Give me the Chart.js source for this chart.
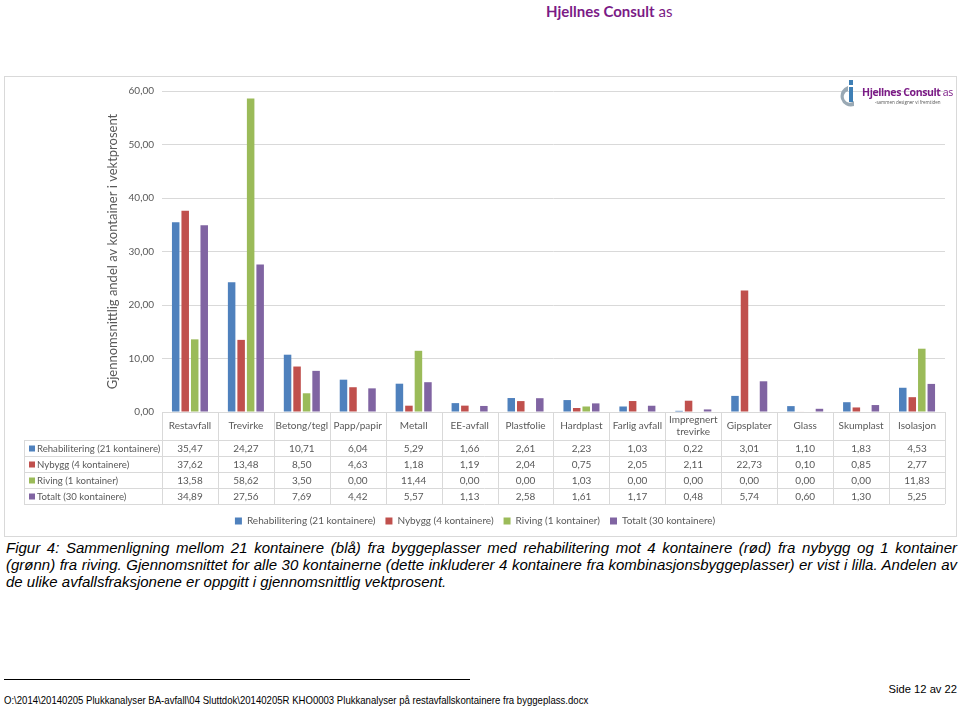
<!DOCTYPE html>
<html>
<head>
<meta charset="utf-8">
<script src="https://cdn.jsdelivr.net/npm/chart.js@4.4.1/dist/chart.umd.min.js"></script>
<style>
  html, body { margin: 0; padding: 0; background: #fff; }
  body { width: 960px; height: 708px; position: relative; overflow: hidden; font-family: "Liberation Sans", Arial, sans-serif; }
  .brand { position: absolute; color: #7b1b86; font-family: Lato, "Open Sans", sans-serif; white-space: nowrap; }
  .brand b { font-weight: 700; }
  #top-brand { left: 546px; top: 2px; font-size: 15px; }
  #box { position: absolute; left: 4px; top: 76px; width: 951px; height: 459px; border: 1px solid #d9d9d9; }
  #box canvas { position: absolute; left: 0; top: 0; }
  #logo { position: absolute; left: 830px; top: 1px; width: 121px; height: 30px; }
  #logo svg { position: absolute; left: 0; top: 0; }
  #logo .name { position: absolute; left: 27px; top: 7px; font-size: 10.5px; color: #7b1b86; font-family: "Open Sans", sans-serif; letter-spacing: -0.4px; white-space: nowrap; }
  #logo .tag { position: absolute; left: 40px; top: 21px; font-size: 4.5px; color: #555; font-family: "Open Sans", sans-serif; white-space: nowrap; }
  #caption { position: absolute; left: 6px; top: 539px; width: 951px; font-style: italic; font-size: 15px; line-height: 17px; color: #000; }
  #caption div { text-align: justify; text-align-last: justify; }
  #caption div.last { text-align-last: left; }
  #rule { position: absolute; left: 4px; top: 679px; width: 466px; height: 0; border-top: 1px solid #000; }
  #page { position: absolute; right: 3px; top: 683px; font-size: 11.2px; }
  #path { position: absolute; left: 4px; top: 695px; font-size: 10.4px; white-space: nowrap; transform: scaleX(0.922); transform-origin: 0 0; }
</style>
</head>
<body>
<div class="brand" id="top-brand"><b>Hjellnes Consult</b> as</div>

<div id="box">
  <canvas id="chart" width="951" height="459"></canvas>
  <div id="logo">
    <svg width="30" height="30" viewBox="0 0 30 30">
      <path d="M13 8 A10 10 0 1 0 19 28 L19 23 A6 6 0 1 1 13 13 Z" fill="#9aa9b4"/>
      <rect x="14" y="2" width="4" height="5" fill="#3e7fb5"/>
      <rect x="14" y="9" width="4" height="15" fill="#3e7fb5"/>
    </svg>
    <div class="name"><b>Hjellnes Consult</b> as</div>
    <div class="tag">-sammen designer vi fremtiden</div>
  </div>
</div>

<div id="caption">
  <div>Figur 4: Sammenligning mellom 21 kontainere (blå) fra byggeplasser med rehabilitering mot 4 kontainere (rød) fra nybygg og 1 kontainer</div>
  <div>(grønn) fra riving. Gjennomsnittet for alle 30 kontainerne (dette inkluderer 4 kontainere fra kombinasjonsbyggeplasser) er vist i lilla. Andelen av</div>
  <div class="last">de ulike avfallsfraksjonene er oppgitt i gjennomsnittlig vektprosent.</div>
</div>

<div id="rule"></div>
<div id="page">Side 12 av 22</div>
<div id="path">O:\2014\20140205 Plukkanalyser BA-avfall\04 Sluttdok\20140205R KHO0003 Plukkanalyser på restavfallskontainere fra byggeplass.docx</div>

<script>
const categories = ['Restavfall', 'Trevirke', 'Betong/tegl', 'Papp/papir', 'Metall', 'EE-avfall', 'Plastfolie',
  'Hardplast', 'Farlig avfall', ['Impregnert', 'trevirke'], 'Gipsplater', 'Glass', 'Skumplast', 'Isolasjon'];

const seriesNames = ['Rehabilitering (21 kontainere)', 'Nybygg (4 kontainere)', 'Riving (1 kontainer)', 'Totalt (30 kontainere)'];

const rehabilitering = [35.47, 24.27, 10.71, 6.04, 5.29, 1.66, 2.61, 2.23, 1.03, 0.22, 3.01, 1.10, 1.83, 4.53];
const nybygg         = [37.62, 13.48, 8.50, 4.63, 1.18, 1.19, 2.04, 0.75, 2.05, 2.11, 22.73, 0.10, 0.85, 2.77];
const riving         = [13.58, 58.62, 3.50, 0.00, 11.44, 0.00, 0.00, 1.03, 0.00, 0.00, 0.00, 0.00, 0.00, 11.83];
const totalt         = [34.89, 27.56, 7.69, 4.42, 5.57, 1.13, 2.58, 1.61, 1.17, 0.48, 5.74, 0.60, 1.30, 5.25];

const yTicks = [0, 10, 20, 30, 40, 50, 60];

const colors = ['#4f81bd', '#c0504d', '#9bbb59', '#8064a2'];
const allSeries = [rehabilitering, nybygg, riving, totalt];
const fmt = v => v.toFixed(2).replace('.', ',');

Chart.defaults.font.family = 'Lato, "Open Sans", sans-serif';
Chart.defaults.color = '#595959';

// data table under the plot, columns follow the x scale
const dataTable = {
    id: 'dataTable',
    afterDraw(chart) {
        const {ctx, chartArea} = chart;
        const x = chart.scales.x;
        const top = chartArea.bottom;
        const headH = 28, rowH = 16;
        const colW = x.getPixelForValue(1) - x.getPixelForValue(0);
        const labelLeft = 19;
        const bottom = top + headH + rowH * allSeries.length;
        const first = x.getPixelForValue(0) - colW / 2;
        const last = x.getPixelForValue(categories.length - 1) + colW / 2;
        const px = v => Math.round(v) + 0.5;

        ctx.save();
        ctx.strokeStyle = '#d9d9d9';
        ctx.lineWidth = 1;
        ctx.beginPath();
        for (let r = 0; r <= allSeries.length; r++) {
            const y = px(top + headH + r * rowH);
            ctx.moveTo(labelLeft, y);
            ctx.lineTo(last, y);
        }
        for (let i = 0; i <= categories.length; i++) {
            const xx = px(first + i * colW);
            ctx.moveTo(xx, top);
            ctx.lineTo(xx, bottom);
        }
        ctx.moveTo(px(labelLeft), px(top + headH));
        ctx.lineTo(px(labelLeft), bottom);
        ctx.stroke();

        ctx.fillStyle = '#595959';
        ctx.font = '10px Lato, "Open Sans", sans-serif';
        ctx.textAlign = 'center';
        ctx.textBaseline = 'middle';
        categories.forEach((c, i) => {
            const cx = x.getPixelForValue(i);
            if (Array.isArray(c)) {
                ctx.fillText(c[0], cx, top + 8);
                ctx.fillText(c[1], cx, top + 20);
            } else {
                ctx.fillText(c, cx, top + 14);
            }
        });

        allSeries.forEach((data, r) => {
            const cy = top + headH + r * rowH + rowH / 2 + 0.5;
            ctx.font = '10px Lato, "Open Sans", sans-serif';
            ctx.textAlign = 'center';
            ctx.fillStyle = '#595959';
            data.forEach((v, i) => ctx.fillText(fmt(v), x.getPixelForValue(i), cy));
            ctx.fillStyle = colors[r];
            ctx.fillRect(labelLeft + 5, cy - 3, 6, 6);
            ctx.fillStyle = '#595959';
            ctx.textAlign = 'left';
            ctx.font = '9.6px Lato, "Open Sans", sans-serif';
            ctx.fillText(seriesNames[r], labelLeft + 13, cy);
        });
        ctx.restore();
    }
};

new Chart(document.getElementById('chart'), {
    type: 'bar',
    data: {
        labels: categories,
        datasets: allSeries.map((d, i) => ({
            label: seriesNames[i],
            data: d,
            backgroundColor: colors[i],
            barPercentage: 0.79,
            categoryPercentage: 0.68
        }))
    },
    options: {
        responsive: false,
        animation: false,
        layout: { padding: { top: 6, right: 11, left: 0, bottom: 0 } },
        plugins: {
            tooltip: { enabled: false },
            legend: {
                position: 'bottom',
                labels: { boxWidth: 7, boxHeight: 7, font: { size: 10 }, padding: 10, color: '#595959' }
            }
        },
        scales: {
            x: {
                grid: { display: false },
                border: { display: false },
                ticks: { display: false },
                afterFit: s => { s.height = 94; }
            },
            y: {
                min: 0,
                max: 60,
                afterBuildTicks: s => { s.ticks = yTicks.map(v => ({ value: v })); },
                grid: { color: '#d9d9d9', drawTicks: false },
                border: { display: false },
                ticks: { padding: 8, font: { size: 10 }, callback: v => fmt(v) },
                title: { display: true, text: 'Gjennomsnittlig andel av kontainer i vektprosent', font: { size: 13 }, color: '#595959', padding: { top: 100, bottom: 4 } },
                afterFit: s => { s.width = 157; }
            }
        }
    },
    plugins: [dataTable]
});
</script>
</body>
</html>
